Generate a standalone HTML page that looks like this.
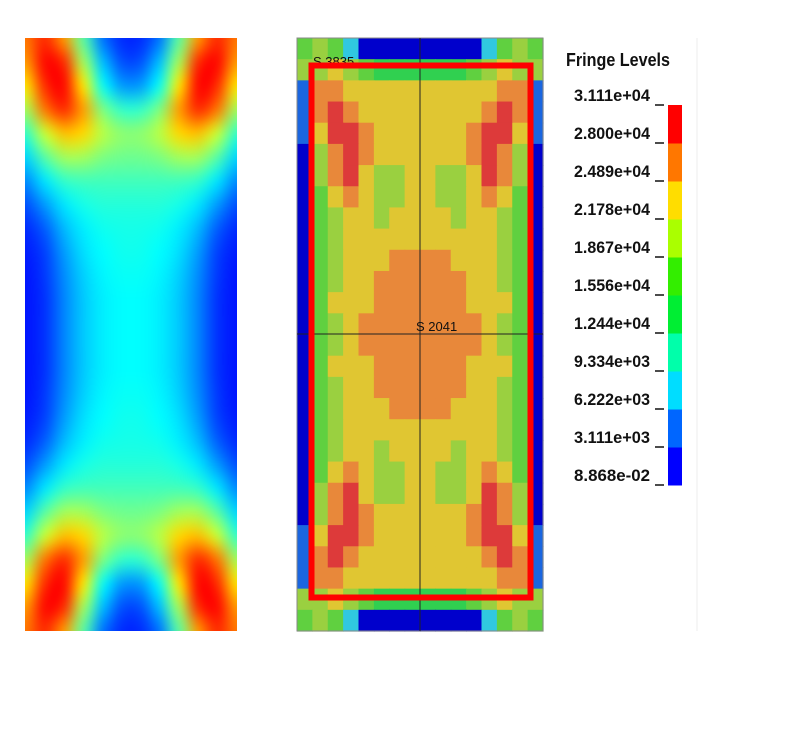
<!DOCTYPE html>
<html><head><meta charset="utf-8"><style>
body{margin:0;background:#fff;width:812px;height:738px;position:relative;overflow:hidden;font-family:"Liberation Sans",Arial,sans-serif}
canvas{position:absolute}
</style></head><body>
<canvas id="left" width="212" height="593" style="left:25px;top:38px"></canvas>
<svg width="812" height="738" style="position:absolute;left:0;top:0">
<g id="rcells"></g>
<rect x="297" y="38" width="246" height="593" fill="none" stroke="#888" stroke-width="1"/>
<line x1="420" y1="38" x2="420" y2="631" stroke="#222" stroke-width="1"/>
<line x1="297" y1="334" x2="543" y2="334" stroke="#222" stroke-width="1"/>
<text x="313" y="66" font-size="13" fill="#111">S 3835</text>
<text x="416" y="331" font-size="13" fill="#111">S 2041</text>
<rect x="311.5" y="65.5" width="219" height="532" fill="none" stroke="#ff0000" stroke-width="6"/>
<line x1="697" y1="38" x2="697" y2="631" stroke="#eee"/>
<g id="legend"></g>
<text x="566" y="66" font-size="18" font-weight="bold" fill="#111" textLength="104" lengthAdjust="spacingAndGlyphs">Fringe Levels</text>
</svg>
<script>
// Left plot: normalized values (top half, left half columns), mirrored
const leftRows = [
[0.85,0.95,0.8,0.45,0.15,0.05],
[0.8,1.0,0.95,0.55,0.25,0.1],
[0.7,0.95,1.0,0.7,0.35,0.2],
[0.55,0.85,0.95,0.8,0.5,0.4],
[0.4,0.6,0.75,0.72,0.58,0.52],
[0.28,0.45,0.55,0.55,0.5,0.48],
[0.18,0.3,0.4,0.42,0.42,0.42],
[0.1,0.2,0.3,0.36,0.38,0.38],
[0.05,0.12,0.24,0.31,0.35,0.36],
[0.03,0.08,0.2,0.29,0.33,0.35],
[0.02,0.07,0.18,0.27,0.32,0.34],
[0.02,0.06,0.17,0.26,0.31,0.33],
[0.02,0.06,0.17,0.26,0.31,0.33]
];
// Right plot: fringe level index (0..9), top half, left half
const rightRows = [
[5,6,5,2,0,0,0,0],
[6,6,7,6,5,4,4,4],
[1,8,8,7,7,7,7,7],
[1,8,9,8,7,7,7,7],
[1,7,9,9,8,7,7,7],
[0,6,8,9,8,7,7,7],
[0,6,8,9,7,6,6,7],
[0,5,7,8,7,6,6,7],
[0,5,6,7,7,6,7,7],
[0,5,6,7,7,7,7,7],
[0,5,6,7,7,7,8,8],
[0,5,6,7,7,8,8,8],
[0,5,7,7,7,8,8,8],
[0,5,6,7,8,8,8,8]
];
const levelLabels = ["8.868e-02","3.111e+03","6.222e+03","9.334e+03","1.244e+04","1.556e+04","1.867e+04","2.178e+04","2.489e+04","2.800e+04","3.111e+04"];
const levelColors = ["#0000ff","#0066ff","#00ddff","#00ffaa","#00ee33","#33ee00","#aaff00","#ffdd00","#ff7700","#ff0000"];
const plotColors = ["#0000cc","#1a66e0","#30c8e0","#30e0a0","#30d050","#60d040","#9ad040","#e0c632","#e8883a","#dd3a3a"];

function full(half){const top=half.map(r=>r.concat(r.slice().reverse()));return top.concat(top.slice().reverse());}
function jet(v){
  v=0.13+0.74*v;
  const r=Math.max(0,Math.min(1,1.5-Math.abs(4*v-3))),g=Math.max(0,Math.min(1,1.5-Math.abs(4*v-2))),b=Math.max(0,Math.min(1,1.5-Math.abs(4*v-1)));
  return [r*255|0,g*255|0,b*255|0];
}
// left
(function(){
  const g=full(leftRows),R=g.length,C=g[0].length;
  const off=document.createElement('canvas');off.width=C;off.height=R;
  const ox=off.getContext('2d');const img=ox.createImageData(C,R);
  for(let i=0;i<R;i++)for(let j=0;j<C;j++){const c=jet(g[i][j]),k=(i*C+j)*4;img.data[k]=c[0];img.data[k+1]=c[1];img.data[k+2]=c[2];img.data[k+3]=255;}
  ox.putImageData(img,0,0);
  const cv=document.getElementById('left'),ctx=cv.getContext('2d');
  ctx.imageSmoothingEnabled=true;ctx.imageSmoothingQuality='high';
  ctx.drawImage(off,0,0,C,R,-cv.width/C/2,-cv.height/R/2,cv.width+cv.width/C,cv.height+cv.height/R);
})();
// right
(function(){
  const g=full(rightRows),R=g.length,C=g[0].length;
  const x0=297,y0=38,W=246,H=593,cw=W/C,ch=H/R;
  const grp=document.getElementById('rcells');
  for(let i=0;i<R;i++)for(let j=0;j<C;j++){
    const r=document.createElementNS('http://www.w3.org/2000/svg','rect');
    r.setAttribute('x',x0+j*cw);r.setAttribute('y',y0+i*ch);
    r.setAttribute('width',cw+0.6);r.setAttribute('height',ch+0.6);
    r.setAttribute('fill',plotColors[Math.min(9,g[i][j])]);
    
    
    grp.appendChild(r);
  }
})();
// legend
(function(){
  const grp=document.getElementById('legend'),ns='http://www.w3.org/2000/svg';
  const top=105,bot=485,n=levelColors.length,h=(bot-top)/n;
  for(let k=0;k<n;k++){
    const r=document.createElementNS(ns,'rect');
    r.setAttribute('x',668);r.setAttribute('y',bot-(k+1)*h);r.setAttribute('width',14);r.setAttribute('height',h+0.5);
    r.setAttribute('fill',levelColors[k]);
    
    
    grp.appendChild(r);
  }
  levelLabels.forEach((t,k)=>{
    const y=bot-k*h;
    const tx=document.createElementNS(ns,'text');
    tx.setAttribute('x',650);tx.setAttribute('y',y-4);tx.setAttribute('text-anchor','end');
    tx.setAttribute('font-size','17');tx.setAttribute('font-weight','bold');tx.setAttribute('fill','#111');
    tx.setAttribute('textLength','76');tx.setAttribute('lengthAdjust','spacingAndGlyphs');
    tx.textContent=t;
    
    
    grp.appendChild(tx);
    const l=document.createElementNS(ns,'line');
    l.setAttribute('x1',655);l.setAttribute('x2',664);l.setAttribute('y1',y);l.setAttribute('y2',y);
    l.setAttribute('stroke','#111');l.setAttribute('stroke-width','1.5');
    
    
    grp.appendChild(l);
  });
})();
</script>
</body></html>
